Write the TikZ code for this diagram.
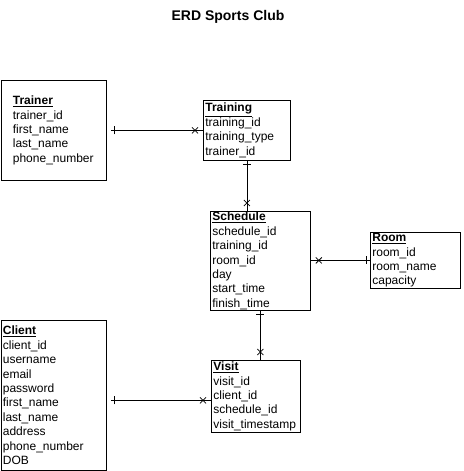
\documentclass[tikz,border=0pt]{standalone}
\usepackage{fontspec}
\setmainfont{Liberation Sans}
\usepackage{tikz}
\usetikzlibrary{positioning,calc,decorations.markings}
\hyphenpenalty=10000
\newcommand{\erdfont}{\fontsize{12}{14.4}\selectfont}
\newcommand{\erdhead}[1]{\underline{\textbf{#1}}}
\tikzset{
  entity/.style={draw,line width=0.8pt,rectangle,anchor=north west,align=left,inner ysep=0pt,inner xsep=2pt,font=\erdfont},
  relline/.style={line width=0.8pt},
  onemany/.style={relline,postaction={decorate,decoration={markings,
    mark=at position 4pt with {\draw[relline] (0,-4pt)--(0,4pt);},
    mark=at position -8pt with {\draw[relline] (-3pt,-3pt)--(3pt,3pt) (-3pt,3pt)--(3pt,-3pt);}}}}
}

\begin{document}
\begin{tikzpicture}[x=1pt,y=-1pt]
  \useasboundingbox[fill=white] (0,0) rectangle (463,471);
  \node[font=\fontsize{14}{17}\selectfont\bfseries] (title) at (228,17) {ERD Sports Club};

  % entities
  \node[entity,inner xsep=12pt,text width=81.5pt,minimum height=100pt] (trainer) at (0.5,80)
    {\erdhead{Trainer}\\trainer\_id\\first\_name\\last\_name\\phone\_number};
  \node[entity,text width=83pt,minimum height=60pt] (training) at (203,100)
    {\erdhead{Training}\\training\_id\\training\_type\\trainer\_id};
  \node[entity,text width=96pt,minimum height=99pt] (schedule) at (210,211)
    {\erdhead{Schedule}\\schedule\_id\\training\_id\\room\_id\\day\\start\_time\\finish\_time};
  \node[entity,text width=86pt,minimum height=56pt] (room) at (370,232)
    {\erdhead{Room}\\room\_id\\room\_name\\capacity};
  \node[entity,text width=101.5pt,minimum height=150pt] (client) at (0.5,320)
    {\erdhead{Client}\\client\_id\\username\\email\\password\\first\_name\\last\_name\\address\\phone\_number\\DOB};
  \node[entity,text width=85pt,minimum height=72pt] (visit) at (211,360)
    {\erdhead{Visit}\\visit\_id\\client\_id\\schedule\_id\\visit\_timestamp};

  % relations
  \coordinate (trainerend) at ([xshift=4pt]trainer.east);
  \coordinate (clientend) at ([xshift=4pt,yshift=-5pt]client.east);
  \draw[onemany] (trainerend) -- (trainerend -| training.west);
  \draw[onemany] (training.south) -- (training.south |- schedule.north);
  \draw[onemany] (room.west) -- (room.west -| schedule.east);
  \draw[onemany] (schedule.south) -- (schedule.south |- visit.north);
  \draw[onemany] (clientend) -- (clientend -| visit.west);
\end{tikzpicture}
\end{document}
